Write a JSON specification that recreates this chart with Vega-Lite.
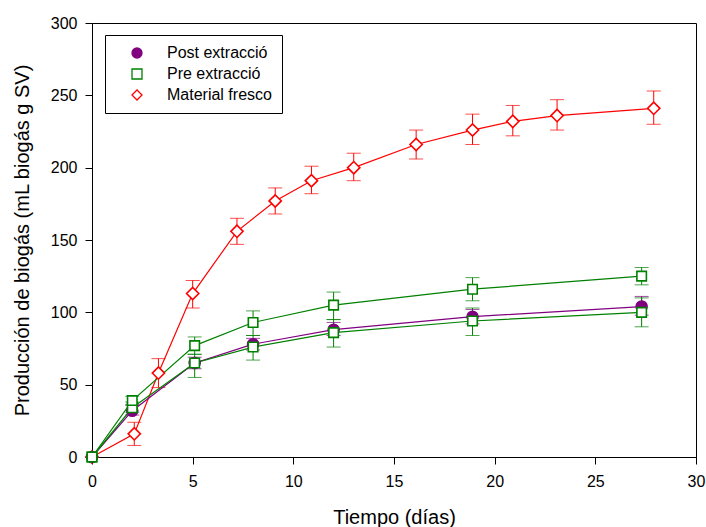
{
  "$schema": "https://vega.github.io/schema/vega-lite/v6.json",
  "autosize": "none",
  "width": 604,
  "height": 434,
  "padding": {"left": 92, "top": 23, "right": 10, "bottom": 70},
  "background": "white",
  "config": {
    "font": "Liberation Sans",
    "view": {"stroke": "black", "strokeWidth": 1},
    "axis": {
      "grid": false,
      "domainColor": "black",
      "tickColor": "black",
      "tickSize": 7,
      "labelFlush": false,
      "labelFont": "Liberation Sans",
      "labelFontSize": 16,
      "labelColor": "black",
      "titleFont": "Liberation Sans",
      "titleFontSize": 20,
      "titleFontWeight": "normal",
      "titleColor": "black"
    }
  },
  "data": {
    "values": [
      {"serie": "Material fresco", "grupo": "M", "dia": 0, "valor": 0, "lo": null, "hi": null},
      {"serie": "Material fresco", "grupo": "M", "dia": 2.1, "valor": 16, "lo": 8, "hi": 24},
      {"serie": "Material fresco", "grupo": "M", "dia": 3.3, "valor": 58, "lo": 48, "hi": 68},
      {"serie": "Material fresco", "grupo": "M", "dia": 5.0, "valor": 113, "lo": 103, "hi": 122},
      {"serie": "Material fresco", "grupo": "M", "dia": 7.2, "valor": 156, "lo": 147, "hi": 165},
      {"serie": "Material fresco", "grupo": "M", "dia": 9.1, "valor": 177, "lo": 168, "hi": 186},
      {"serie": "Material fresco", "grupo": "M", "dia": 10.9, "valor": 191, "lo": 182, "hi": 201},
      {"serie": "Material fresco", "grupo": "M", "dia": 13.0, "valor": 200, "lo": 191, "hi": 210},
      {"serie": "Material fresco", "grupo": "M", "dia": 16.1, "valor": 216, "lo": 206, "hi": 226},
      {"serie": "Material fresco", "grupo": "M", "dia": 18.9, "valor": 226, "lo": 216, "hi": 237},
      {"serie": "Material fresco", "grupo": "M", "dia": 20.9, "valor": 232, "lo": 222, "hi": 243},
      {"serie": "Material fresco", "grupo": "M", "dia": 23.1, "valor": 236, "lo": 226, "hi": 247},
      {"serie": "Material fresco", "grupo": "M", "dia": 27.9, "valor": 241, "lo": 230, "hi": 253},
      {"serie": "Post extracció", "grupo": "P", "dia": 0, "valor": 0, "lo": null, "hi": null},
      {"serie": "Post extracció", "grupo": "P", "dia": 2.0, "valor": 32, "lo": 29, "hi": 36},
      {"serie": "Post extracció", "grupo": "P", "dia": 5.1, "valor": 65, "lo": 61, "hi": 69},
      {"serie": "Post extracció", "grupo": "P", "dia": 8.0, "valor": 78, "lo": 74, "hi": 82},
      {"serie": "Post extracció", "grupo": "P", "dia": 12.0, "valor": 88, "lo": 84, "hi": 93},
      {"serie": "Post extracció", "grupo": "P", "dia": 18.9, "valor": 97, "lo": 92, "hi": 102},
      {"serie": "Post extracció", "grupo": "P", "dia": 27.3, "valor": 104, "lo": 98, "hi": 111},
      {"serie": "Pre extracció", "grupo": "B", "dia": 0, "valor": 0, "lo": null, "hi": null},
      {"serie": "Pre extracció", "grupo": "B", "dia": 2.0, "valor": 34, "lo": 31, "hi": 38},
      {"serie": "Pre extracció", "grupo": "B", "dia": 5.1, "valor": 65, "lo": 55, "hi": 71},
      {"serie": "Pre extracció", "grupo": "B", "dia": 8.0, "valor": 76, "lo": 67, "hi": 84},
      {"serie": "Pre extracció", "grupo": "B", "dia": 12.0, "valor": 86, "lo": 76, "hi": 95},
      {"serie": "Pre extracció", "grupo": "B", "dia": 18.9, "valor": 94, "lo": 84, "hi": 103},
      {"serie": "Pre extracció", "grupo": "B", "dia": 27.3, "valor": 100, "lo": 90, "hi": 110},
      {"serie": "Pre extracció", "grupo": "A", "dia": 0, "valor": 0, "lo": null, "hi": null},
      {"serie": "Pre extracció", "grupo": "A", "dia": 2.0, "valor": 39, "lo": 36, "hi": 42},
      {"serie": "Pre extracció", "grupo": "A", "dia": 5.1, "valor": 77, "lo": 71, "hi": 83},
      {"serie": "Pre extracció", "grupo": "A", "dia": 8.0, "valor": 93, "lo": 84, "hi": 101},
      {"serie": "Pre extracció", "grupo": "A", "dia": 12.0, "valor": 105, "lo": 95, "hi": 114},
      {"serie": "Pre extracció", "grupo": "A", "dia": 18.9, "valor": 116, "lo": 108, "hi": 124},
      {"serie": "Pre extracció", "grupo": "A", "dia": 27.3, "valor": 125, "lo": 119, "hi": 131}
    ]
  },
  "encoding": {
    "x": {
      "field": "dia", "type": "quantitative",
      "scale": {"domain": [0, 30], "nice": false, "zero": false},
      "axis": {"values": [0, 5, 10, 15, 20, 25, 30], "labelPadding": 9, "title": "Tiempo (días)", "titlePadding": 18}
    }
  },
  "layer": [
    {
      "mark": {"type": "rule", "strokeWidth": 1},
      "encoding": {
        "y": {"field": "lo", "type": "quantitative"},
        "y2": {"field": "hi"},
        "color": {"field": "serie", "type": "nominal", "legend": null,
          "scale": {"domain": ["Material fresco", "Post extracció", "Pre extracció"], "range": ["#ff0000", "#800080", "#008000"]}}
      }
    },
    {
      "mark": {"type": "tick", "orient": "horizontal", "size": 14, "thickness": 1},
      "encoding": {
        "y": {"field": "lo", "type": "quantitative"},
        "color": {"field": "serie", "type": "nominal", "legend": null}
      }
    },
    {
      "mark": {"type": "tick", "orient": "horizontal", "size": 14, "thickness": 1},
      "encoding": {
        "y": {"field": "hi", "type": "quantitative"},
        "color": {"field": "serie", "type": "nominal", "legend": null}
      }
    },
    {
      "mark": {"type": "line", "strokeWidth": 1.2},
      "encoding": {
        "y": {"field": "valor", "type": "quantitative"},
        "detail": {"field": "grupo"},
        "stroke": {"field": "serie", "type": "nominal", "title": null}
      }
    },
    {
      "mark": {"type": "point", "filled": true, "strokeWidth": 1.6, "opacity": 1},
      "encoding": {
        "y": {
          "field": "valor", "type": "quantitative",
          "scale": {"domain": [0, 300], "nice": false},
          "axis": {"values": [0, 50, 100, 150, 200, 250, 300], "labelPadding": 8, "title": "Producción de biogás (mL biogás g SV)", "titlePadding": 18}
        },
        "stroke": {"field": "serie", "type": "nominal", "title": null,
          "scale": {"domain": ["Post extracció", "Pre extracció", "Material fresco"], "range": ["#800080", "#008000", "#ff0000"]},
          "legend": {
            "title": null,
            "orient": "none",
            "legendX": 13,
            "legendY": 12,
            "padding": 10,
            "strokeColor": "black",
            "fillColor": "white",
            "symbolSize": 100,
            "symbolStrokeWidth": 1.3,
            "symbolOffset": 14,
            "labelFontSize": 16,
            "labelFont": "Liberation Sans",
            "labelColor": "black",
            "labelOffset": 22,
            "rowPadding": 5
          }
        },
        "fill": {"field": "serie", "type": "nominal", "title": null,
          "scale": {"domain": ["Post extracció", "Pre extracció", "Material fresco"], "range": ["#800080", "white", "white"]}},
        "shape": {"field": "serie", "type": "nominal", "title": null,
          "scale": {"domain": ["Post extracció", "Pre extracció", "Material fresco"], "range": ["circle", "square", "diamond"]}},
        "size": {"field": "serie", "type": "nominal", "legend": null,
          "scale": {"domain": ["Material fresco", "Post extracció", "Pre extracció"], "range": [150, 90, 110]}}
      }
    }
  ]
}
